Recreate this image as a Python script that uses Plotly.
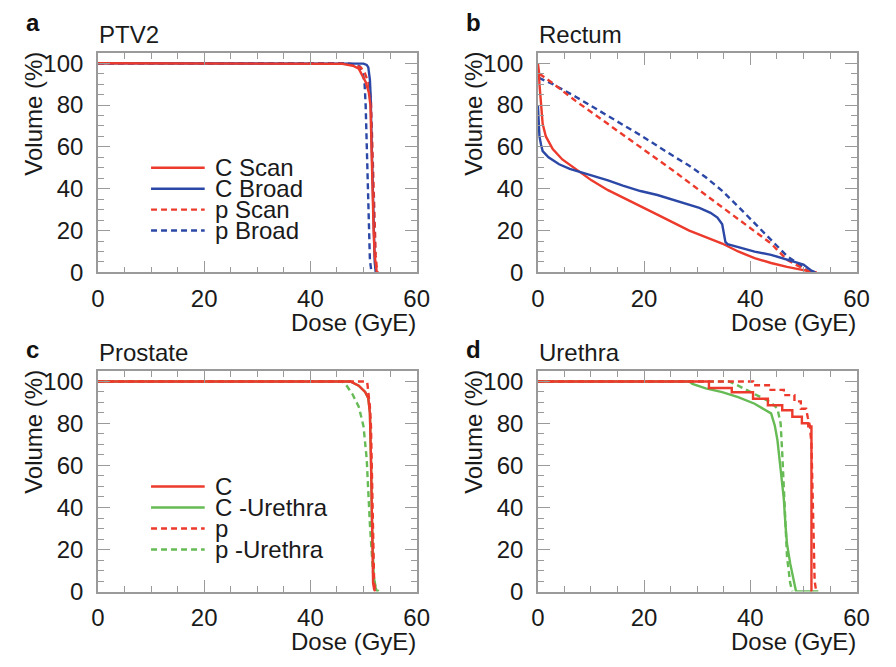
import plotly.graph_objects as go

# ---------------- data ----------------
# Panel a: PTV2
ptv_cscan_x = [0, 44, 46, 48, 49.1, 50.4, 51.0, 51.3, 51.5, 51.7, 51.9, 52.1, 52.3, 52.5]
ptv_cscan_y = [100, 100, 99.7, 98.8, 97.4, 91, 86, 80, 55, 35, 20, 8, 2, 0]
ptv_cbroad_x = [0, 48, 50, 50.6, 50.9, 51.2, 51.35, 51.5, 51.7, 51.9, 52.1, 52.3]
ptv_cbroad_y = [100, 100, 99.8, 99.2, 98, 92, 84, 65, 40, 20, 5, 0]
ptv_pscan_x = [0, 46, 48, 49.5, 50.3, 51.0, 51.4, 51.6, 51.9, 52.1, 52.3, 52.5, 52.7]
ptv_pscan_y = [100, 100, 99.5, 98, 95, 90, 82, 65, 45, 25, 8, 2, 0]
ptv_pbroad_x = [0, 46, 48, 49.3, 49.9, 50.2, 50.4, 50.6, 50.8, 51.0, 51.2, 51.5]
ptv_pbroad_y = [100, 100, 99.6, 98.5, 95, 90, 80, 60, 40, 20, 6, 0]

# Panel b: Rectum
rec_c_x = [0.0, 0.2, 0.3, 0.6, 0.9, 1.5, 2.8, 4.6, 7.1, 10.1, 13.2, 16.3, 19.3, 22.4, 25.5, 28.5,
           31.6, 34.7, 37.7, 40.8, 43.9, 46.9, 50.0, 52.5]
rec_c_y = [100, 96, 90, 79, 71, 65, 59, 54, 49.4, 44, 39.3, 35.5, 31.6, 27.7, 23.8, 20,
           16.9, 13.8, 10, 6.8, 4.5, 2.6, 1.1, 0]
rec_cbroad_x = [0.0, 0.1, 0.3, 0.6, 0.9, 2.0, 4.0, 6.0, 8.3, 10.5, 13.2, 16.0, 19.3, 22.5, 25.5,
                28.0, 30.4, 32.5, 33.8, 34.7, 35.0, 35.3, 35.7, 37.7, 40.8, 43.9, 46.9, 50.0,
                51.5, 52.2]
rec_cbroad_y = [80, 72, 65, 61, 58, 55, 51.7, 49.5, 47.8, 46.3, 44, 41.5, 38.9, 37, 34.7,
                32.8, 30.8, 28.5, 26.2, 23, 18.4, 14.6, 13.5, 12.2, 9.9, 8.4, 6, 3.7,
                0.8, 0]
rec_p_x = [0.3, 2.8, 7.1, 13.2, 19.3, 25.5, 31.6, 37.7, 43.9, 46.9, 50.0, 51.2]
rec_p_y = [95, 90.4, 82, 71, 60, 48.6, 37, 25.4, 13.8, 6, 1.4, 0]
rec_pbroad_x = [0.2, 2.8, 7.1, 13.2, 19.3, 25.5, 28.5, 31.6, 34.7, 37.7, 40.8, 43.9, 46.9,
                48.8, 50.0, 51.2]
rec_pbroad_y = [93, 90, 84, 75, 65.6, 55.6, 51, 45.5, 39, 31.5, 23.5, 15.5, 7.8,
                4.5, 2.2, 0]

# Panel c: Prostate
pro_c_x = [0, 47.5, 49.1, 50.3, 50.9, 51.2, 51.4, 51.6, 51.8, 52.0, 52.2]
pro_c_y = [100, 100, 98, 95, 92, 85, 63, 32, 4, 1, 0]
pro_cu_x = [0, 47.5, 49.1, 50.3, 50.9, 51.2, 51.4, 51.6, 51.9, 52.2, 52.6]
pro_cu_y = [100, 100, 98, 95, 92, 85, 63, 32, 8, 2, 0]
pro_p_x = [0, 50.3, 50.7, 51.0, 51.2, 51.4, 51.6, 51.8, 52.0, 52.3]
pro_p_y = [100, 100, 99.5, 94, 88, 78.6, 47.5, 20, 4, 0]
pro_pu_x = [0, 46.0, 46.6, 47.9, 49.1, 50.0, 50.6, 51.2, 51.8, 52.3, 52.8]
pro_pu_y = [100, 100, 98.8, 94, 88, 78.6, 63, 32, 8.7, 2, 0]

# Panel d: Urethra
ure_c_x = [0, 32.2, 32.2, 36.5, 36.5, 40.5, 40.5, 43.3, 43.3, 46.0, 46.0, 47.9, 47.9, 49.7,
           49.7, 50.9, 50.9, 51.5, 51.5, 51.6]
ure_c_y = [100, 100, 96.9, 96.9, 94.9, 94.9, 91.8, 91.8, 88.7, 88.7, 86.3, 86.3, 83.2, 83.2,
           80.1, 80.1, 78.6, 78.6, 0, 0]
ure_p_x = [0, 40.5, 40.5, 43.8, 43.8, 46.3, 46.3, 48.3, 48.3, 49.5, 49.5, 50.5, 50.8, 51.2,
           51.5, 51.7, 51.9, 52.1, 52.4]
ure_p_y = [100, 100, 98.2, 98.2, 96, 96, 93.5, 93.5, 90.5, 90.5, 87, 87, 83, 79, 70, 50,
           20, 5, 0]
ure_cu_x = [0, 28.5, 29.1, 31.6, 34.7, 37.7, 40.8, 43.3, 43.9, 44.6, 45.1, 45.7, 46.3, 46.6,
            46.9, 47.5, 48.2, 48.6, 52.8]
ure_cu_y = [100, 100, 98.8, 96.7, 94.9, 92.5, 89.4, 85.6, 84.8, 79, 72, 58, 44, 32,
            22.7, 13.4, 4, 0, 0]
ure_pu_x = [0, 36.0, 37.7, 40.8, 43.9, 45.1, 45.7, 46.0, 46.3, 46.6, 46.9, 47.5, 47.9]
ure_pu_y = [100, 100, 98, 94, 90, 87, 80, 66, 47.5, 32, 16.5, 4, 0]

panel_letters = ["a", "b", "c", "d"]
panel_titles = ["PTV2", "Rectum", "Prostate", "Urethra"]
legend_a = ["C Scan", "C Broad", "p Scan", "p Broad"]
legend_c = ["C", "C -Urethra", "p", "p -Urethra"]
x_ticks = [0, 20, 40, 60]
y_ticks = [0, 20, 40, 60, 80, 100]
x_title = "Dose (GyE)"
y_title = "Volume (%)"

# ---------------- style ----------------
RED = "#ec3a2c"
BLUE = "#2c48a6"
GREEN = "#66bb55"
DASH = "6px,4px"
LW = 2.4
FONT = "Liberation Sans, Arial, Helvetica, sans-serif"
FS = 24
TXT = "#1a1a1a"
FRAME = "#9a9a9a"
W, H = 896, 667

fig = go.Figure()

def add(x, y, color, dash, ax):
    fig.add_trace(go.Scatter(x=x, y=y, mode="lines", showlegend=False, hoverinfo="skip",
                             line=dict(color=color, width=LW, dash=dash),
                             xaxis="x" + ax, yaxis="y" + ax))

# panel a
add(ptv_pbroad_x, ptv_pbroad_y, BLUE, DASH, "")
add(ptv_pscan_x, ptv_pscan_y, RED, DASH, "")
add(ptv_cbroad_x, ptv_cbroad_y, BLUE, "solid", "")
add(ptv_cscan_x, ptv_cscan_y, RED, "solid", "")
# panel b
add(rec_pbroad_x, rec_pbroad_y, BLUE, DASH, "2")
add(rec_p_x, rec_p_y, RED, DASH, "2")
add(rec_c_x, rec_c_y, RED, "solid", "2")
add(rec_cbroad_x, rec_cbroad_y, BLUE, "solid", "2")
# panel c
add(pro_pu_x, pro_pu_y, GREEN, DASH, "3")
add(pro_cu_x, pro_cu_y, GREEN, "solid", "3")
add(pro_p_x, pro_p_y, RED, DASH, "3")
add(pro_c_x, pro_c_y, RED, "solid", "3")
# panel d
add(ure_pu_x, ure_pu_y, GREEN, DASH, "4")
add(ure_cu_x, ure_cu_y, GREEN, "solid", "4")
add(ure_p_x, ure_p_y, RED, DASH, "4")
add(ure_c_x, ure_c_y, RED, "solid", "4")

# pixel geometry of the plot frames
X_LEFT = [(93, 419), (543, 869)]
Y_ROWS = [(51, 276), (377, 603)]  # top, bottom pixel

def xdom(c):
    return [X_LEFT[c][0] / W, X_LEFT[c][1] / W]

def ydom(r):
    return [(H - Y_ROWS[r][1]) / H, (H - Y_ROWS[r][0]) / H]

minor = dict(ticks="inside", ticklen=6, tickwidth=1.2, tickcolor=FRAME, dtick=5, tick0=0)
axis_common = dict(showgrid=False, zeroline=False, showline=True, linecolor=FRAME,
                   linewidth=1.5, mirror="allticks", ticks="inside", ticklen=12,
                   tickwidth=1.3, tickcolor=FRAME,
                   tickfont=dict(family=FONT, size=FS, color=TXT))

names = ["", "2", "3", "4"]
pos = [(0, 0), (1, 0), (0, 1), (1, 1)]
layout = {}
for n, (c, r) in zip(names, pos):
    xa = dict(axis_common)
    xa.update(domain=xdom(c), range=[0, 60], tickvals=x_ticks, anchor="y" + n,
              minor=minor, ticklabelstandoff=4)
    ya = dict(axis_common)
    ya.update(domain=ydom(r), range=[0, 105], tickvals=y_ticks, anchor="x" + n,
              minor=minor, ticklabelstandoff=8)
    layout["xaxis" + n] = xa
    layout["yaxis" + n] = ya

annotations = []
for i, (n, (c, r)) in enumerate(zip(names, pos)):
    x0, x1 = X_LEFT[c]
    top, bot = Y_ROWS[r]
    annotations.append(dict(text="<b>" + panel_letters[i] + "</b>", xref="paper", yref="paper",
                            x=(x0 - 76) / W, y=1 - (top - 31 + r * 9) / H,
                            xanchor="left", yanchor="middle", showarrow=False,
                            font=dict(family=FONT, size=FS, color="#111")))
    annotations.append(dict(text=panel_titles[i], xref="paper", yref="paper",
                            x=(x0 - 1) / W, y=1 - (top - 19) / H,
                            xanchor="left", yanchor="middle", showarrow=False,
                            font=dict(family=FONT, size=FS, color=TXT)))
    annotations.append(dict(text=x_title, xref="paper", yref="paper",
                            x=(x1 + 1) / W, y=1 - (bot + 51) / H,
                            xanchor="right", yanchor="middle", showarrow=False,
                            font=dict(family=FONT, size=FS, color=TXT)))
    annotations.append(dict(text=y_title, xref="paper", yref="paper",
                            x=(x0 - 66) / W, y=1 - (top + 62) / H,
                            xanchor="center", yanchor="middle", showarrow=False, textangle=-90,
                            font=dict(family=FONT, size=FS, color=TXT)))

# in-plot legends (panels a and c)
shapes = []
leg_y = [50, 40, 30, 20]
leg_a_style = [(RED, "solid"), (BLUE, "solid"), (RED, DASH), (BLUE, DASH)]
leg_c_style = [(RED, "solid"), (GREEN, "solid"), (RED, DASH), (GREEN, DASH)]
for n, labels, styles in [("", legend_a, leg_a_style), ("3", legend_c, leg_c_style)]:
    for lab, (col, dsh), yy in zip(labels, styles, leg_y):
        shapes.append(dict(type="line", xref="x" + n, yref="y" + n, x0=10, x1=20.1, y0=yy, y1=yy,
                           line=dict(color=col, width=LW, dash=dsh)))
        annotations.append(dict(text=lab, xref="x" + n, yref="y" + n, x=21.7, y=yy,
                                xanchor="left", yanchor="middle", showarrow=False,
                                font=dict(family=FONT, size=FS, color=TXT)))

fig.update_layout(width=W, height=H, margin=dict(l=0, r=0, t=0, b=0),
                  paper_bgcolor="white", plot_bgcolor="white",
                  annotations=annotations, shapes=shapes, **layout)

fig.write_html("out.html")
